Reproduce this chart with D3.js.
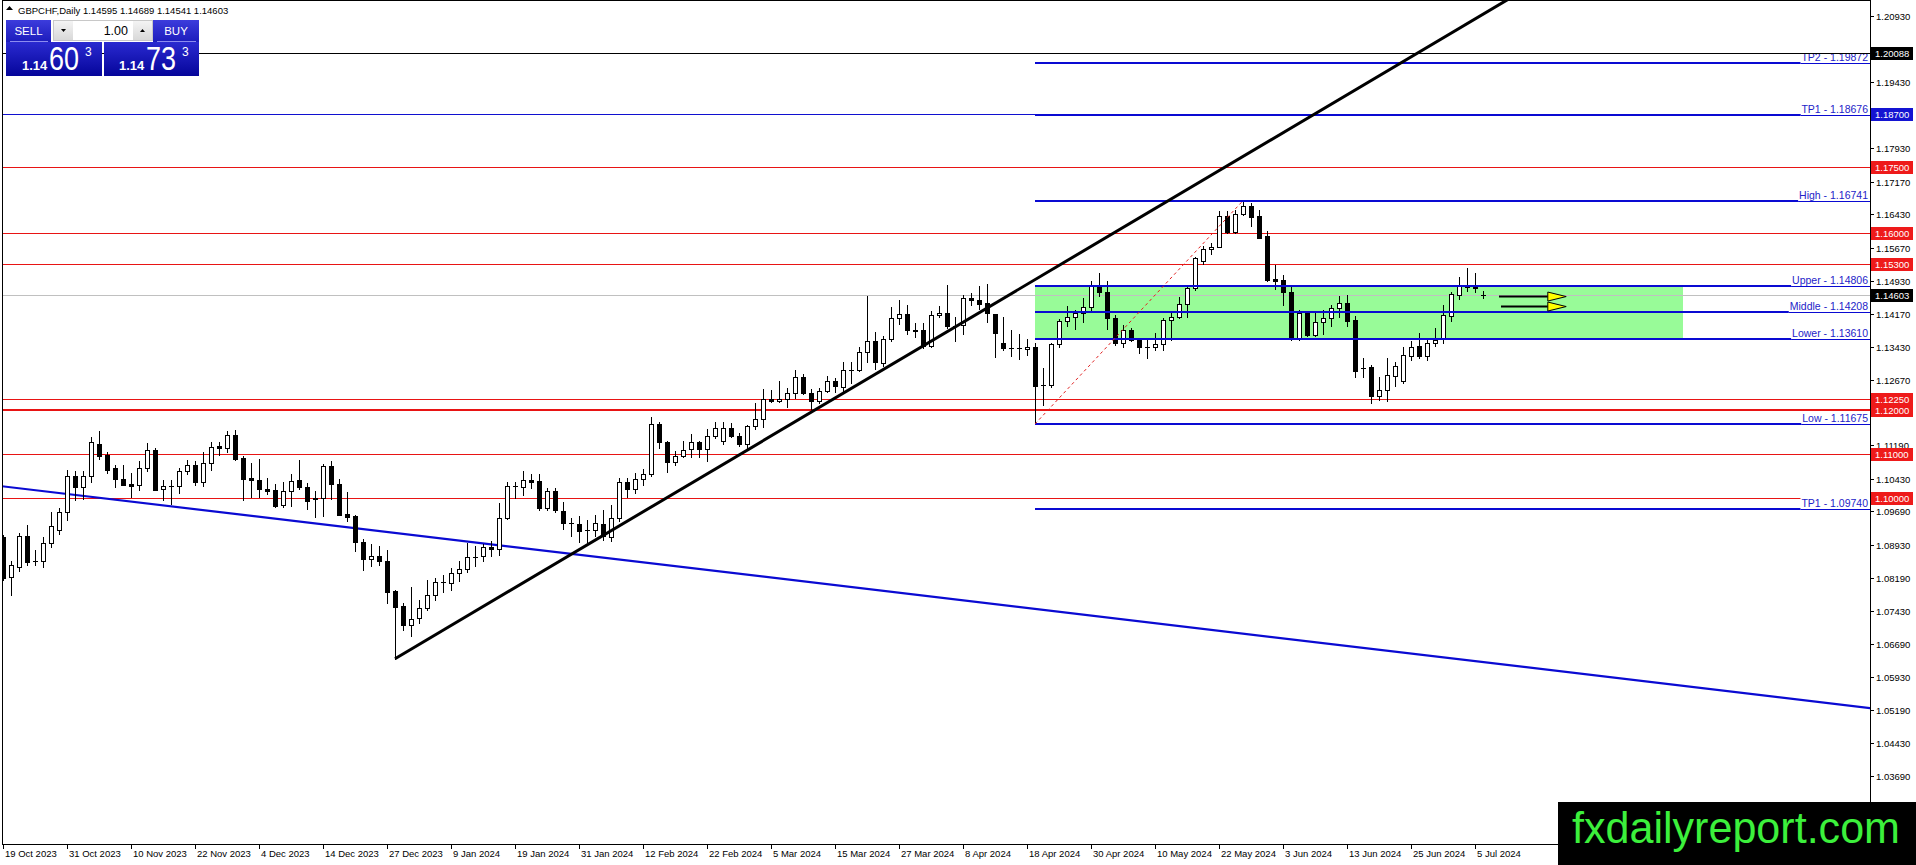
<!DOCTYPE html>
<html>
<head>
<meta charset="utf-8">
<script src="https://cdn.jsdelivr.net/npm/d3@7"></script>
<style>
  body { margin: 0; background: #fff; overflow: hidden; }
  svg { display: block; font-family: "Liberation Sans", Arial, sans-serif; }
</style>
</head>
<body>
<svg id="chart" width="1916" height="865"></svg>
<script>
// Daily GBPCHF bars, one entry per trading day starting 19 Oct 2023.
const openP = [
  1.0912, 1.0820, 1.0843, 1.0914, 1.0857, 1.0856, 1.0897, 1.0928, 1.0968, 1.1049,
  1.1024, 1.1049, 1.1123, 1.1098, 1.1067, 1.1043, 1.1032, 1.1028, 1.1068, 1.1109,
  1.1019, 1.1027, 1.1027, 1.1062, 1.1075, 1.1037, 1.1079, 1.1118, 1.1113, 1.1143,
  1.1090, 1.1045, 1.1041, 1.1020, 1.1017, 1.0983, 1.1015, 1.1041, 1.1024, 1.1000,
  1.1000, 1.1073, 1.1031, 1.0964, 1.0958, 1.0899, 1.0861, 1.0869, 1.0856, 1.0788,
  1.0755, 1.0712, 1.0728, 1.0750, 1.0779, 1.0809, 1.0807, 1.0830, 1.0839, 1.0865,
  1.0867, 1.0889, 1.0884, 1.0954, 1.1026, 1.1025, 1.1041, 1.1039, 1.0976, 1.1016,
  1.0971, 1.0942, 1.0941, 1.0926, 1.0926, 1.0941, 1.0911, 1.0954, 1.1035, 1.1020,
  1.1043, 1.1054, 1.1168, 1.1126, 1.1081, 1.1096, 1.1111, 1.1126, 1.1111, 1.1141,
  1.1130, 1.1158, 1.1141, 1.1121, 1.1162, 1.1179, 1.1225, 1.1220, 1.1225, 1.1238,
  1.1274, 1.1238, 1.1219, 1.1243, 1.1266, 1.1251, 1.1290, 1.1289, 1.1330, 1.1355,
  1.1306, 1.1360, 1.1408, 1.1417, 1.1381, 1.1380, 1.1345, 1.1414, 1.1419, 1.1389,
  1.1392, 1.1453, 1.1448, 1.1442, 1.1417, 1.1352, 1.1341, 1.1339, 1.1338, 1.1342,
  1.1256, 1.1256, 1.1349, 1.1400, 1.1410, 1.1419, 1.1433, 1.1481, 1.1466, 1.1408,
  1.1352, 1.1381, 1.1358, 1.1342, 1.1342, 1.1349, 1.1403, 1.1411, 1.1439, 1.1476,
  1.1538, 1.1564, 1.1570, 1.1640, 1.1604, 1.1644, 1.1662, 1.1640, 1.1594, 1.1496,
  1.1494, 1.1466, 1.1362, 1.1420, 1.1370, 1.1398, 1.1408, 1.1430, 1.1442, 1.1404,
  1.1295, 1.1296, 1.1231, 1.1245, 1.1277, 1.1264, 1.1322, 1.1345, 1.1321, 1.1352,
  1.1362, 1.1413, 1.1460, 1.1483, 1.1479, 1.14595
];
const highP = [
  1.0916, 1.0857, 1.0920, 1.0939, 1.0881, 1.0912, 1.0968, 1.0977, 1.1064, 1.1060,
  1.1060, 1.1137, 1.1152, 1.1105, 1.1075, 1.1075, 1.1056, 1.1084, 1.1124, 1.1113,
  1.1041, 1.1041, 1.1067, 1.1086, 1.1083, 1.1103, 1.1126, 1.1126, 1.1152, 1.1154,
  1.1095, 1.1080, 1.1088, 1.1045, 1.1032, 1.1037, 1.1055, 1.1086, 1.1033, 1.1015,
  1.1077, 1.1084, 1.1043, 1.1013, 1.0960, 1.0906, 1.0896, 1.0890, 1.0882, 1.0792,
  1.0762, 1.0798, 1.0769, 1.0813, 1.0818, 1.0826, 1.0841, 1.0856, 1.0898, 1.0890,
  1.0896, 1.0901, 1.0988, 1.1035, 1.1035, 1.1060, 1.1054, 1.1053, 1.1022, 1.1022,
  1.0990, 1.0954, 1.0958, 1.0949, 1.0960, 1.0973, 1.0983, 1.1045, 1.1045, 1.1056,
  1.1066, 1.1183, 1.1171, 1.1130, 1.1107, 1.1128, 1.1145, 1.1130, 1.1156, 1.1173,
  1.1172, 1.1170, 1.1147, 1.1166, 1.1216, 1.1247, 1.1244, 1.1264, 1.1249, 1.1291,
  1.1281, 1.1247, 1.1249, 1.1277, 1.1272, 1.1307, 1.1307, 1.1343, 1.1457, 1.1377,
  1.1366, 1.1434, 1.1449, 1.1438, 1.1396, 1.1397, 1.1423, 1.1436, 1.1483, 1.1411,
  1.1460, 1.1464, 1.1480, 1.1484, 1.1417, 1.1411, 1.1381, 1.1372, 1.1360, 1.1351,
  1.1294, 1.1352, 1.1405, 1.1436, 1.1426, 1.1453, 1.1491, 1.1510, 1.1491, 1.1415,
  1.1392, 1.1385, 1.1360, 1.1362, 1.1374, 1.1408, 1.1419, 1.1456, 1.1483, 1.1546,
  1.1571, 1.1579, 1.1650, 1.1650, 1.1652, 1.16741, 1.1668, 1.1653, 1.1606, 1.1529,
  1.1506, 1.1483, 1.1425, 1.1423, 1.1423, 1.1427, 1.1438, 1.1457, 1.1460, 1.1413,
  1.1317, 1.1302, 1.1274, 1.1317, 1.1309, 1.1343, 1.1355, 1.1374, 1.1362, 1.1385,
  1.1438, 1.1466, 1.1500, 1.1521, 1.1511, 1.14689
];
const lowP = [
  1.0814, 1.0780, 1.0833, 1.0848, 1.0848, 1.0843, 1.0888, 1.0917, 1.0949, 1.0996,
  1.0997, 1.1035, 1.1089, 1.1056, 1.1024, 1.1030, 1.1002, 1.1017, 1.1060, 1.1017,
  1.0996, 1.0987, 1.1012, 1.1055, 1.1030, 1.1027, 1.1064, 1.1098, 1.1105, 1.1085,
  1.0994, 1.1003, 1.1003, 1.1009, 1.0979, 1.0979, 1.0982, 1.1020, 1.0975, 1.0956,
  1.0959, 1.0998, 1.0960, 1.0947, 1.0879, 1.0836, 1.0845, 1.0848, 1.0761, 1.0635,
  1.0700, 1.0686, 1.0716, 1.0746, 1.0769, 1.0786, 1.0792, 1.0812, 1.0831, 1.0845,
  1.0856, 1.0869, 1.0871, 1.0952, 1.0999, 1.1007, 1.1022, 1.0972, 1.0972, 1.0967,
  1.0929, 1.0913, 1.0899, 1.0899, 1.0913, 1.0904, 1.0901, 1.0947, 1.1002, 1.1011,
  1.1028, 1.1049, 1.1113, 1.1059, 1.1074, 1.1093, 1.1093, 1.1093, 1.1083, 1.1136,
  1.1123, 1.1139, 1.1117, 1.1109, 1.1156, 1.1161, 1.1217, 1.1217, 1.1206, 1.1226,
  1.1236, 1.1201, 1.1215, 1.1239, 1.1241, 1.1241, 1.1260, 1.1287, 1.1309, 1.1293,
  1.1298, 1.1355, 1.1395, 1.1372, 1.1364, 1.1340, 1.1343, 1.1410, 1.1385, 1.1355,
  1.1372, 1.1438, 1.1428, 1.1398, 1.1319, 1.1336, 1.1322, 1.1315, 1.1324, 1.11675,
  1.1211, 1.1251, 1.1342, 1.1390, 1.1383, 1.1398, 1.1423, 1.1457, 1.1383, 1.1347,
  1.1343, 1.1355, 1.1328, 1.1317, 1.1336, 1.1336, 1.1358, 1.1408, 1.1410, 1.1472,
  1.1531, 1.1553, 1.1569, 1.1600, 1.1600, 1.1642, 1.1617, 1.1589, 1.1491, 1.1473,
  1.1438, 1.1358, 1.1358, 1.1366, 1.1366, 1.1372, 1.1389, 1.1411, 1.1389, 1.1274,
  1.1275, 1.1216, 1.1222, 1.1219, 1.1254, 1.1260, 1.1312, 1.1317, 1.1313, 1.1345,
  1.1351, 1.1402, 1.1451, 1.1470, 1.1466, 1.14541
];
const closeP = [
  1.0818, 1.0848, 1.0914, 1.0855, 1.0856, 1.0897, 1.0937, 1.0968, 1.1049, 1.1024,
  1.1049, 1.1127, 1.1096, 1.1064, 1.1043, 1.1030, 1.1026, 1.1068, 1.1108, 1.1018,
  1.1026, 1.1027, 1.1060, 1.1075, 1.1037, 1.1080, 1.1115, 1.1112, 1.1143, 1.1089,
  1.1043, 1.1040, 1.1020, 1.1015, 1.0981, 1.1016, 1.1039, 1.1024, 1.0992, 1.0997,
  1.1073, 1.1031, 1.0962, 1.0956, 1.0899, 1.0861, 1.0869, 1.0856, 1.0786, 1.0752,
  1.0712, 1.0725, 1.0750, 1.0779, 1.0809, 1.0810, 1.0830, 1.0839, 1.0865, 1.0866,
  1.0888, 1.0884, 1.0954, 1.1027, 1.1026, 1.1041, 1.1036, 1.0976, 1.1016, 1.0972,
  1.0942, 1.0942, 1.0924, 1.0926, 1.0944, 1.0913, 1.0954, 1.1035, 1.1020, 1.1043,
  1.1054, 1.1168, 1.1126, 1.1081, 1.1096, 1.1109, 1.1126, 1.1111, 1.1141, 1.1158,
  1.1158, 1.1141, 1.1121, 1.1162, 1.1179, 1.1225, 1.1219, 1.1225, 1.1238, 1.1274,
  1.1238, 1.1219, 1.1243, 1.1266, 1.1253, 1.1289, 1.1291, 1.1330, 1.1355, 1.1307,
  1.1360, 1.1408, 1.1417, 1.1380, 1.1378, 1.1345, 1.1415, 1.1419, 1.1389, 1.1389,
  1.1453, 1.1448, 1.1440, 1.1419, 1.1375, 1.1340, 1.1341, 1.1339, 1.1342, 1.1254,
  1.1256, 1.1349, 1.1400, 1.1411, 1.1419, 1.1433, 1.1481, 1.1466, 1.1408, 1.1352,
  1.1381, 1.1358, 1.1342, 1.1342, 1.1349, 1.1404, 1.1411, 1.1439, 1.1476, 1.1544,
  1.1564, 1.1570, 1.1640, 1.1604, 1.1644, 1.1662, 1.1638, 1.1590, 1.1494, 1.1491,
  1.1466, 1.1362, 1.1420, 1.1370, 1.1398, 1.1408, 1.1430, 1.1442, 1.1402, 1.1287,
  1.1295, 1.1230, 1.1245, 1.1279, 1.1300, 1.1324, 1.1343, 1.1321, 1.1352, 1.1358,
  1.1415, 1.1463, 1.1483, 1.1478, 1.1475, 1.14603
];

// Time axis labels, one every 8 bars.
const dateLabels = [
  "19 Oct 2023", "31 Oct 2023", "10 Nov 2023", "22 Nov 2023", "4 Dec 2023",
  "14 Dec 2023", "27 Dec 2023", "9 Jan 2024", "19 Jan 2024", "31 Jan 2024",
  "12 Feb 2024", "22 Feb 2024", "5 Mar 2024", "15 Mar 2024", "27 Mar 2024",
  "8 Apr 2024", "18 Apr 2024", "30 Apr 2024", "10 May 2024", "22 May 2024",
  "3 Jun 2024", "13 Jun 2024", "25 Jun 2024", "5 Jul 2024"
];

// Price scale labels.
const priceTicks = [
  1.20930, 1.20170, 1.19430, 1.18670, 1.17930, 1.17170, 1.16430, 1.15670,
  1.14930, 1.14170, 1.13430, 1.12670, 1.11930, 1.11190, 1.10430, 1.09690,
  1.08930, 1.08190, 1.07430, 1.06690, 1.05930, 1.05190, 1.04430, 1.03690
];

// Horizontal support / resistance lines.
const redLevels = [1.17500, 1.16000, 1.15300, 1.12250, 1.12000, 1.11000, 1.10000];
const redWidths = [1, 1, 1, 1, 2, 1, 1];

// Fibonacci-style projection drawn from the 19 Apr low to the 28 May high.
const fibNames = ["TP2", "TP1", "High", "Upper", "Middle", "Lower", "Low", "TP1"];
const fibValues = [1.19872, 1.18676, 1.16741, 1.14806, 1.14208, 1.13610, 1.11675, 1.09740];

// Trend lines (bar index, price).
const upTrend = [[49, 1.0635], [149, 1.1710]];
const downTrend = [[0, 1.1026], [233, 1.0524]];
const swingLine = [[129, 1.11675], [155, 1.16741]];

// Range box and forecast arrows.
const boxBars = [129, 210];
const arrowPrices = [1.14566, 1.14339];
const arrowBars = [187, 193.1, 195.4];

const bidPrice = 1.14603;
const askLine = 1.20088;
const blueLine = 1.18700;

/**
 * Scales.
 */
const width = 1916, height = 865;
const axisX = 1870, axisY = 844;
const x = d3.scaleLinear().domain([0, 233.375]).range([3, axisX]);
const y = d3.scaleLinear().domain([1.2093, 1.0369]).range([16, 776]);
const fmt = d3.format(".5f");
const crisp = (v) => Math.round(v) + 0.5;

const svg = d3.select("#chart");
svg.append("rect").attr("width", width).attr("height", height).attr("fill", "#fff");

const defs = svg.append("defs");
defs.append("clipPath").attr("id", "plot")
  .append("rect").attr("x", 2).attr("y", 1).attr("width", axisX - 2).attr("height", axisY - 1);

function vGrad(id, top, bottom) {
  const g = defs.append("linearGradient").attr("id", id)
    .attr("x1", 0).attr("y1", 0).attr("x2", 0).attr("y2", 1);
  g.append("stop").attr("offset", "0%").attr("stop-color", top);
  g.append("stop").attr("offset", "100%").attr("stop-color", bottom);
}
vGrad("btn", "#3c3cdc", "#1c1cbc");
vGrad("quote", "#2a2ad0", "#05059a");
vGrad("spin", "#f4f4f4", "#d8d8d8");

const plot = svg.append("g").attr("clip-path", "url(#plot)");

/**
 * Range box.
 */
plot.append("rect")
  .attr("x", x(boxBars[0])).attr("width", x(boxBars[1]) - x(boxBars[0]))
  .attr("y", y(fibValues[3])).attr("height", y(fibValues[5]) - y(fibValues[3]))
  .attr("fill", "#98fb98");

/**
 * Horizontal lines.
 */
plot.append("g").selectAll("line").data(redLevels).join("line")
  .attr("x1", 2).attr("x2", axisX)
  .attr("y1", (d, i) => redWidths[i] > 1 ? Math.round(y(d)) : crisp(y(d)))
  .attr("y2", (d, i) => redWidths[i] > 1 ? Math.round(y(d)) : crisp(y(d)))
  .attr("stroke", "#e81414").attr("stroke-width", (d, i) => redWidths[i]);

plot.append("line")
  .attr("x1", 2).attr("x2", axisX).attr("y1", crisp(y(blueLine))).attr("y2", crisp(y(blueLine)))
  .attr("stroke", "#1010d0").attr("stroke-width", 1);

plot.append("line")
  .attr("x1", 2).attr("x2", axisX).attr("y1", crisp(y(bidPrice))).attr("y2", crisp(y(bidPrice)))
  .attr("stroke", "#c0c0c0").attr("stroke-width", 1);

/**
 * Down trend line.
 */
const trend = d3.line().x((d) => x(d[0])).y((d) => y(d[1]));
const extend = (pts, from, to) => {
  const [[b0, p0], [b1, p1]] = pts;
  const k = (p1 - p0) / (b1 - b0);
  return [[from, p0 + k * (from - b0)], [to, p0 + k * (to - b0)]];
};
plot.append("path").attr("d", trend(extend(downTrend, -5, 240)))
  .attr("fill", "none").attr("stroke", "#0a0ad2").attr("stroke-width", 2.2);

/**
 * Candles.
 */
const candles = openP.map((o, i) => ({ i, o, h: highP[i], l: lowP[i], c: closeP[i] }));
const cg = plot.append("g");
cg.selectAll("line").data(candles).join("line")
  .attr("x1", (d) => crisp(x(d.i))).attr("x2", (d) => crisp(x(d.i)))
  .attr("y1", (d) => Math.round(y(d.h))).attr("y2", (d) => Math.round(y(d.l)) + 1)
  .attr("stroke", "#000").attr("stroke-width", 1);
cg.selectAll("rect").data(candles).join("rect")
  .attr("x", (d) => Math.round(x(d.i)) - 1.5)
  .attr("width", 4)
  .attr("y", (d) => crisp(y(Math.max(d.o, d.c))))
  .attr("height", (d) => Math.max(0.01, Math.round(y(Math.min(d.o, d.c))) - Math.round(y(Math.max(d.o, d.c)))))
  .attr("fill", (d) => (d.c >= d.o ? "#fff" : "#000"))
  .attr("stroke", "#000").attr("stroke-width", 1);

/**
 * Fibonacci levels with their captions.
 */
const fib = plot.append("g");
fibValues.forEach((v, i) => {
  const yy = Math.round(y(v));
  const label = fib.append("text")
    .attr("x", axisX - 2).attr("y", yy - 2)
    .attr("text-anchor", "end").attr("font-size", 10.5)
    .attr("fill", "#2323c8")
    .text(`${fibNames[i]} - ${fmt(v)}`);
  const w = label.node().getComputedTextLength();
  const start = axisX - 3 - w;
  fib.insert("rect", "text")
    .attr("x", start).attr("y", yy - 11).attr("width", w + 3).attr("height", 11)
    .attr("fill", "#fff").attr("opacity", i >= 3 && i <= 5 ? 0 : 1);
  fib.append("line")
    .attr("x1", x(boxBars[0])).attr("x2", start).attr("y1", yy).attr("y2", yy)
    .attr("stroke", "#0a0ad2").attr("stroke-width", 2);
  fib.append("line")
    .attr("x1", start).attr("x2", axisX).attr("y1", yy + 0.5).attr("y2", yy + 0.5)
    .attr("stroke", "#0a0ad2").attr("stroke-width", 1);
});

// Ask level line on top of the captions.
plot.append("line")
  .attr("x1", 2).attr("x2", axisX).attr("y1", crisp(y(askLine))).attr("y2", crisp(y(askLine)))
  .attr("stroke", "#000").attr("stroke-width", 1);

/**
 * Up trend line and swing line.
 */
plot.append("path").attr("d", trend(extend(upTrend, upTrend[0][0], 220)))
  .attr("fill", "none").attr("stroke", "#000").attr("stroke-width", 3);

plot.append("path").attr("d", trend(swingLine))
  .attr("fill", "none").attr("stroke", "#e02020").attr("stroke-width", 1)
  .attr("stroke-dasharray", "3,3");

/**
 * Forecast arrows.
 */
arrowPrices.forEach((p, i) => {
  const yy = y(p);
  plot.append("line")
    .attr("x1", x(arrowBars[0]) + i * 2).attr("x2", x(arrowBars[1]))
    .attr("y1", yy).attr("y2", yy)
    .attr("stroke", "#000").attr("stroke-width", 2);
  plot.append("path")
    .attr("d", `M${x(arrowBars[1])},${yy - 4.5}L${x(arrowBars[2])},${yy}L${x(arrowBars[1])},${yy + 4.5}Z`)
    .attr("fill", "#ffff00").attr("stroke", "#000").attr("stroke-width", 1);
});

/**
 * Frame and axes.
 */
const frame = svg.append("g").attr("stroke", "#000").attr("stroke-width", 1);
frame.append("line").attr("x1", 2.5).attr("x2", 2.5).attr("y1", 0).attr("y2", axisY);
frame.append("line").attr("x1", 2).attr("x2", axisX).attr("y1", 0.5).attr("y2", 0.5);
frame.append("line").attr("x1", axisX + 0.5).attr("x2", axisX + 0.5).attr("y1", 0).attr("y2", axisY + 1);
frame.append("line").attr("x1", 2).attr("x2", axisX + 1).attr("y1", axisY + 0.5).attr("y2", axisY + 0.5);

const yAxis = svg.append("g");
yAxis.selectAll("line").data(priceTicks).join("line")
  .attr("x1", axisX).attr("x2", axisX + 4)
  .attr("y1", (d) => crisp(y(d))).attr("y2", (d) => crisp(y(d)))
  .attr("stroke", "#000");
yAxis.selectAll("text").data(priceTicks).join("text")
  .attr("x", axisX + 6).attr("y", (d) => y(d) + 4)
  .attr("font-size", 9.5).attr("fill", "#000")
  .text((d) => fmt(d));

const xAxis = svg.append("g");
xAxis.selectAll("line").data(dateLabels).join("line")
  .attr("x1", (d, i) => crisp(x(i * 8))).attr("x2", (d, i) => crisp(x(i * 8)))
  .attr("y1", axisY).attr("y2", axisY + 5)
  .attr("stroke", "#000");
xAxis.selectAll("text").data(dateLabels).join("text")
  .attr("x", (d, i) => x(i * 8) + 2).attr("y", axisY + 13)
  .attr("font-size", 9.5).attr("fill", "#000")
  .text((d) => d);

/**
 * Price tags on the right scale.
 */
const tags = [
  { p: askLine, bg: "#000" },
  { p: blueLine, bg: "#1414d2" },
  ...redLevels.map((p) => ({ p, bg: "#ee1a1a" })),
  { p: bidPrice, bg: "#000" }
];
const tagG = svg.append("g");
tagG.selectAll("rect").data(tags).join("rect")
  .attr("x", axisX + 1).attr("y", (d) => Math.round(y(d.p)) - 6)
  .attr("width", 42).attr("height", 13)
  .attr("fill", (d) => d.bg);
tagG.selectAll("text").data(tags).join("text")
  .attr("x", axisX + 5).attr("y", (d) => Math.round(y(d.p)) + 4)
  .attr("font-size", 9.5).attr("fill", "#fff")
  .text((d) => fmt(d.p));

/**
 * Header and one-click trading panel.
 */
svg.append("path").attr("d", "M6,10L9.5,6L13,10Z").attr("fill", "#000");
svg.append("text").attr("x", 18).attr("y", 14).attr("font-size", 9.5).attr("fill", "#000")
  .text("GBPCHF,Daily  1.14595 1.14689 1.14541 1.14603");

const panel = svg.append("g");
panel.append("rect").attr("x", 6).attr("y", 20).attr("width", 45).attr("height", 22).attr("fill", "url(#btn)");
panel.append("rect").attr("x", 153).attr("y", 20).attr("width", 46).attr("height", 22).attr("fill", "url(#btn)");
panel.append("line").attr("x1", 10).attr("x2", 48).attr("y1", 41.5).attr("y2", 41.5).attr("stroke", "#8c8cf0");
panel.append("line").attr("x1", 157).attr("x2", 196).attr("y1", 41.5).attr("y2", 41.5).attr("stroke", "#8c8cf0");
panel.append("text").attr("x", 28.5).attr("y", 35).attr("text-anchor", "middle")
  .attr("font-size", 11.5).attr("fill", "#fff").text("SELL");
panel.append("text").attr("x", 176).attr("y", 35).attr("text-anchor", "middle")
  .attr("font-size", 11.5).attr("fill", "#fff").text("BUY");

panel.append("rect").attr("x", 53.5).attr("y", 20.5).attr("width", 99).attr("height", 20)
  .attr("fill", "#fff").attr("stroke", "#c8c8c8");
panel.append("rect").attr("x", 54).attr("y", 21).attr("width", 19).attr("height", 19).attr("fill", "url(#spin)");
panel.append("rect").attr("x", 133).attr("y", 21).attr("width", 19).attr("height", 19).attr("fill", "url(#spin)");
panel.append("path").attr("d", "M61,29L66,29L63.5,32Z").attr("fill", "#000");
panel.append("path").attr("d", "M140,32L145,32L142.5,29Z").attr("fill", "#000");
panel.append("text").attr("x", 128).attr("y", 35).attr("text-anchor", "end")
  .attr("font-size", 12.5).attr("fill", "#000").text("1.00");

const quotes = [
  { x0: 6, w: 96, big: "60", xs: 22, xb: 49, xsup: 85 },
  { x0: 104, w: 95, big: "73", xs: 119, xb: 146, xsup: 182 }
];
quotes.forEach((q) => {
  panel.append("rect").attr("x", q.x0).attr("y", 42).attr("width", q.w).attr("height", 34).attr("fill", "url(#quote)");
  panel.append("text").attr("x", q.xs).attr("y", 69.5).attr("font-size", 13).attr("font-weight", "bold")
    .attr("fill", "#fff").text("1.14");
  panel.append("text").attr("x", q.xb).attr("y", 70).attr("font-size", 33)
    .attr("fill", "#fff").attr("textLength", 30).attr("lengthAdjust", "spacingAndGlyphs").text(q.big);
  panel.append("text").attr("x", q.xsup).attr("y", 55.5).attr("font-size", 12)
    .attr("fill", "#fff").text("3");
});

/**
 * Watermark.
 */
svg.append("rect").attr("x", 1558).attr("y", 802).attr("width", width - 1558).attr("height", height - 802).attr("fill", "#000");
svg.append("text").attr("x", 1572).attr("y", 843)
  .attr("font-size", 45).attr("fill", "#3cf03c")
  .attr("textLength", 328).attr("lengthAdjust", "spacingAndGlyphs")
  .text("fxdailyreport.com");
</script>
</body>
</html>
